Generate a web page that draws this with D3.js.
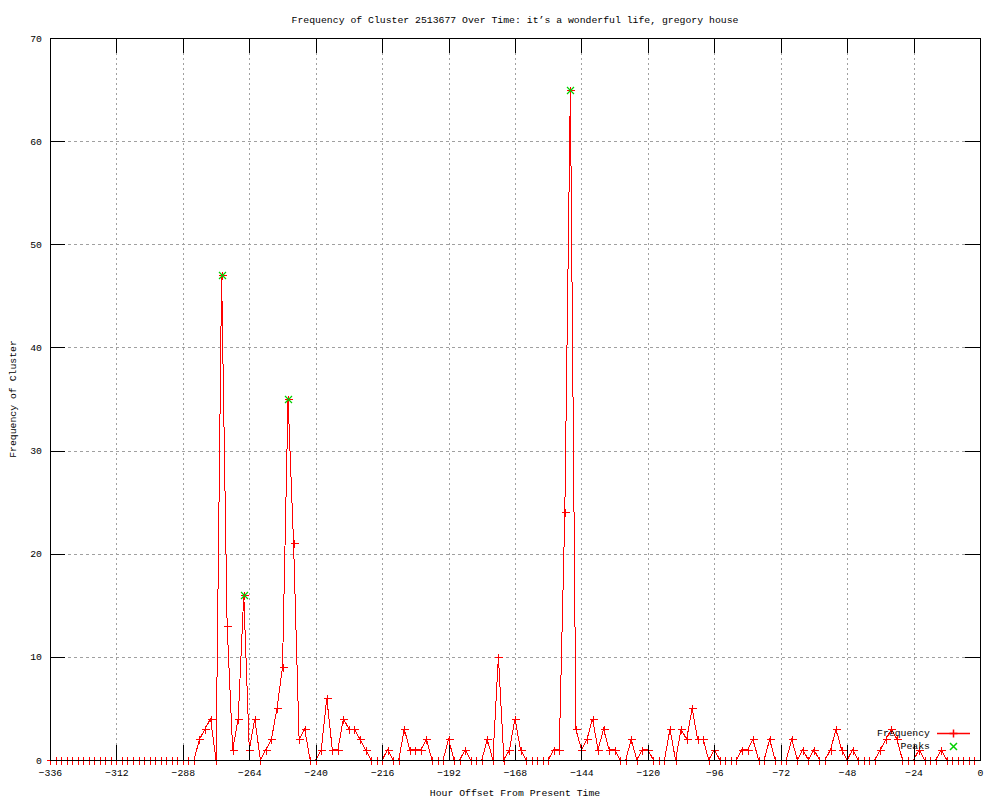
<!DOCTYPE html>
<html><head><meta charset="utf-8">
<script src="https://cdn.jsdelivr.net/npm/d3@7"></script>
<style>
body{margin:0;background:#fff}
svg text{font-family:"Liberation Mono","DejaVu Sans Mono",monospace;font-size:9.8px;fill:#000}
</style>
</head><body>
<svg id="chart" width="1000" height="800"></svg>
<script>
const title = "Frequency of Cluster 2513677 Over Time: it’s a wonderful life, gregory house";
const xLabel = "Hour Offset From Present Time";
const yLabel = "Frequency of Cluster";

// hours of the series: -336 .. -2 every 2 hours
const hours = d3.range(-336, 0, 2);
const frequency = [
  0,0,0,0,0,0,0,0,0,0,0,0,0,0,0,0,0,0,0,0,0,0,0,0,0,0,0, // -336 .. -284
  2,3,4,0,47,13,1,4,16,1,4,0,1,2,5,9,35,21,2,3,          // -282 .. -244
  0,0,1,6,1,1,4,3,3,2,1,0,0,0,1,0,0,3,1,1,                // -242 .. -204
  1,2,0,0,0,2,0,0,1,0,0,0,2,0,10,0,1,4,1,0,               // -202 .. -164
  0,0,0,0,1,1,24,65,3,1,2,4,1,3,1,1,0,0,2,0,              // -162 .. -124
  1,1,0,0,0,3,0,3,2,5,2,2,0,1,0,0,0,0,1,1,                // -122 .. -84
  2,0,0,2,0,0,0,2,0,1,0,1,0,0,1,3,1,0,1,0,                // -82 .. -44
  0,0,0,1,2,3,2,0,0,0,1,0,0,0,1,0,0,0,0,0,0               // -42 .. -2
];
const peakHours = [-274, -266, -250, -148];
const peakValues = [47, 16, 35, 65];
const xTicks = [-336,-312,-288,-264,-240,-216,-192,-168,-144,-120,-96,-72,-48,-24,0];
const yTicks = [0,10,20,30,40,50,60,70];

const L = 50, R = 980, T = 38, B = 760;
const RED = "#ff0000", GREEN = "#00d000";
const svg = d3.select("#chart");
svg.append("rect").attr("width",1000).attr("height",800).attr("fill","#fff");

const x = d3.scaleLinear().domain([-336, 0]).range([L, R]);
const y = d3.scaleLinear().domain([0, 70]).range([B, T]);
const px = v => Math.round(x(v)) + 0.5;
const py = v => Math.round(y(v)) + 0.5;

// grid
const g = svg.append("g");
g.selectAll(".gx").data(xTicks.filter(t => t !== -336 && t !== 0)).enter().append("line")
  .attr("x1", d => px(d)).attr("x2", d => px(d)).attr("y1", T).attr("y2", B)
  .style("stroke","#a0a0a0").style("stroke-dasharray","2,3").style("shape-rendering","crispEdges");
g.selectAll(".gy").data(yTicks.filter(t => t !== 0 && t !== 70)).enter().append("line")
  .attr("y1", d => py(d)).attr("y2", d => py(d)).attr("x1", L).attr("x2", R)
  .style("stroke","#a0a0a0").style("stroke-dasharray","3,3").style("shape-rendering","crispEdges");

// axes: tick labels via d3 axis
const tickLen = 15;
const xAxis = d3.axisBottom(x).tickValues(xTicks).tickSize(0).tickPadding(9)
  .tickFormat(d => d < 0 ? "−" + Math.abs(d) : String(d));
const xa = svg.append("g").attr("transform", `translate(0,${B})`).call(xAxis);
xa.select(".domain").remove();
xa.selectAll("text").style("font-family","Liberation Mono, DejaVu Sans Mono, monospace").style("font-size","9.8px").style("fill","#000");

const yAxis = d3.axisLeft(y).tickValues(yTicks).tickSize(0).tickPadding(8);
const ya = svg.append("g").attr("transform", `translate(${L},0)`).call(yAxis);
ya.select(".domain").remove();
ya.selectAll("text").style("font-family","Liberation Mono, DejaVu Sans Mono, monospace").style("font-size","9.8px").style("fill","#000");

// data line
const line = d3.line().x((d,i) => x(hours[i])).y(d => y(d));
svg.append("path").datum(frequency).attr("d", line)
  .style("fill","none").style("stroke",RED).style("stroke-width",1).style("shape-rendering","crispEdges");

// plus markers
const plus = (cx, cy, s) => `M${cx-s},${cy}H${cx+s}M${cx},${cy-s}V${cy+s}`;
svg.append("path")
  .attr("d", frequency.map((v,i) => plus(px(hours[i]), py(v), 4)).join(""))
  .style("fill","none").style("stroke",RED).style("stroke-width",1).style("shape-rendering","crispEdges");

// peak markers (x)
const cross = (cx, cy, s) => `M${cx-s},${cy-s}L${cx+s},${cy+s}M${cx-s},${cy+s}L${cx+s},${cy-s}`;
svg.append("path")
  .attr("d", peakValues.map((v,i) => cross(px(peakHours[i]), py(peakValues[i]), 3.5)).join(""))
  .style("fill","none").style("stroke",GREEN).style("stroke-width",1.2);

// tick marks (inward, mirrored)
const tk = svg.append("g");
xTicks.forEach(t => {
  tk.append("line").attr("x1",px(t)).attr("x2",px(t)).attr("y1",B).attr("y2",B - tickLen);
  tk.append("line").attr("x1",px(t)).attr("x2",px(t)).attr("y1",T).attr("y2",T + tickLen);
});
yTicks.forEach(t => {
  tk.append("line").attr("y1",py(t)).attr("y2",py(t)).attr("x1",L).attr("x2",L + tickLen);
  tk.append("line").attr("y1",py(t)).attr("y2",py(t)).attr("x1",R).attr("x2",R - tickLen);
});
tk.selectAll("line").style("stroke","#000").style("shape-rendering","crispEdges");
// border
svg.append("rect").attr("x",L+0.5).attr("y",T+0.5).attr("width",R-L).attr("height",B-T)
  .style("fill","none").style("stroke","#000").style("shape-rendering","crispEdges");

// texts
svg.append("text").attr("x",(L+R)/2).attr("y",20).attr("text-anchor","middle")
  .attr("dominant-baseline","middle").text(title);
svg.append("text").attr("x",(L+R)/2).attr("y",793).attr("text-anchor","middle")
  .attr("dominant-baseline","middle").text(xLabel);
svg.append("text").attr("transform",`translate(13,${(T+B)/2}) rotate(-90)`).attr("text-anchor","middle")
  .attr("dominant-baseline","middle").text(yLabel);

// legend
const lg = svg.append("g");
lg.append("text").attr("x",930).attr("y",733).attr("text-anchor","end").attr("dominant-baseline","middle").text("Frequency");
lg.append("line").attr("x1",937).attr("x2",970).attr("y1",733.5).attr("y2",733.5)
  .style("stroke",RED).style("stroke-width",1.5);
lg.append("path").attr("d",plus(953.5,733.5,4))
  .style("stroke",RED).style("fill","none").style("stroke-width",1.5);
lg.append("text").attr("x",930).attr("y",746).attr("text-anchor","end").attr("dominant-baseline","middle").text("Peaks");
lg.append("path").attr("d",cross(953.5,746.5,3.5))
  .style("stroke",GREEN).style("fill","none").style("stroke-width",1.5);
</script>
</body></html>
